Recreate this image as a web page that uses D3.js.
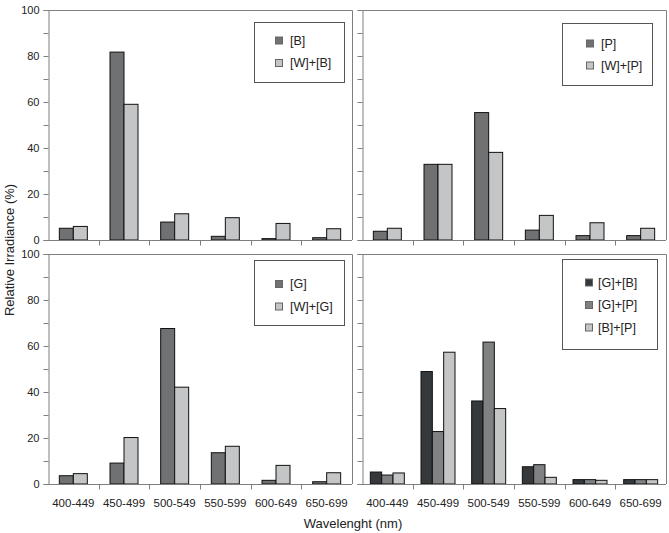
<!DOCTYPE html>
<html>
<head>
<meta charset="utf-8">
<script src="https://cdn.jsdelivr.net/npm/d3@7"></script>
<style>
  body { margin: 0; background: #fff; }
  svg { display: block; font-family: "Liberation Sans", Arial, sans-serif; }
</style>
</head>
<body>
<svg id="chart" width="669" height="533"></svg>
<script>
// wavelength bins
const categories = ['400-449', '450-499', '500-549', '550-599', '600-649', '650-699'];
const yTicks = [0, 20, 40, 60, 80, 100];
const yMinorTicks = [10, 30, 50, 70, 90];

// relative irradiance (%) per bin
const seriesB = [5.1, 81.7, 7.8, 1.6, 0.6, 1];
const seriesWB = [5.9, 59, 11.4, 9.7, 7.2, 4.9];
const seriesP = [3.8, 32.9, 55.4, 4.3, 1.9, 1.9];
const seriesWP = [5.1, 32.9, 38.1, 10.7, 7.5, 5.1];
const seriesG = [3.6, 9.1, 67.6, 13.6, 1.6, 1];
const seriesWG = [4.5, 20.2, 42.1, 16.4, 8.1, 4.9];
const seriesGB = [5.2, 48.9, 36.1, 7.5, 1.9, 1.9];
const seriesGP = [3.9, 22.8, 61.7, 8.4, 1.9, 1.9];
const seriesBP = [4.8, 57.3, 32.8, 2.9, 1.6, 1.9];

const cDark = '#707173', cLight = '#c4c5c7', cBlack = '#35393b', cMid = '#808182';
const axisColor = '#7f7f7f';

const panels = [
  { x0: 48, x1: 352, y0: 10, y1: 240, yLabels: true, xLabels: false, groupW: 28,
    series: [{ name: '[B]', values: seriesB, color: cDark }, { name: '[W]+[B]', values: seriesWB, color: cLight }],
    legend: { x: 254, y: 22, w: 90, h: 60, first: 18.5, step: 22.5, sw: 21, tx: 36 } },
  { x0: 362, x1: 666, y0: 10, y1: 240, yLabels: false, xLabels: false, groupW: 28,
    series: [{ name: '[P]', values: seriesP, color: cDark }, { name: '[W]+[P]', values: seriesWP, color: cLight }],
    legend: { x: 562, y: 23, w: 90, h: 62, first: 20.5, step: 22, sw: 24, tx: 39 } },
  { x0: 48, x1: 352, y0: 254, y1: 484, yLabels: true, xLabels: true, groupW: 28,
    series: [{ name: '[G]', values: seriesG, color: cDark }, { name: '[W]+[G]', values: seriesWG, color: cLight }],
    legend: { x: 254, y: 260, w: 90, h: 65, first: 24, step: 22.5, sw: 21, tx: 36 } },
  { x0: 362, x1: 666, y0: 254, y1: 484, yLabels: false, xLabels: true, groupW: 34,
    series: [{ name: '[G]+[B]', values: seriesGB, color: cBlack }, { name: '[G]+[P]', values: seriesGP, color: cMid },
             { name: '[B]+[P]', values: seriesBP, color: cLight }],
    legend: { x: 562, y: 259, w: 95, h: 90, first: 23.5, step: 22.5, sw: 23, tx: 36 } }
];

const svg = d3.select('#chart');

panels.forEach(p => {
  const g = svg.append('g');
  const x = d3.scaleBand().domain(categories).range([p.x0, p.x1]).padding(0);
  const y = d3.scaleLinear().domain([0, 100]).range([p.y1, p.y0]);
  const keys = p.series.map(s => s.name);
  const n = keys.length;
  const step = p.groupW / n;
  const outer = (x.bandwidth() / step - n) / 2;
  const xs = d3.scaleBand().domain(keys).range([0, x.bandwidth()]).paddingInner(0).paddingOuter(outer);

  // frame (top + right)
  g.append('path')
    .attr('d', `M${p.x0},${p.y0 + 0.5}H${p.x1 + 0.5}V${p.y1}`)
    .attr('fill', 'none').attr('stroke', axisColor).attr('stroke-width', 1);

  // y axis
  const yAxis = d3.axisLeft(y).tickValues(yTicks).tickSize(5).tickPadding(4)
    .tickFormat(p.yLabels ? d3.format('d') : '');
  const ya = g.append('g').attr('transform', `translate(${p.x0 + 0.5},0)`).call(yAxis);
  ya.select('.domain').attr('stroke', axisColor);
  ya.selectAll('.tick line').attr('stroke', axisColor);
  ya.selectAll('.tick text').attr('fill', '#222').style('font-size', '11px');
  const ym = d3.axisLeft(y).tickValues(yMinorTicks).tickSize(5).tickFormat('');
  const yma = g.append('g').attr('transform', `translate(${p.x0 + 0.5},0)`).call(ym);
  yma.select('.domain').remove();
  yma.selectAll('.tick line').attr('stroke', axisColor);

  // bars
  p.series.forEach(s => {
    g.append('g').selectAll('rect')
      .data(s.values)
      .join('rect')
      .attr('x', (d, i) => x(categories[i]) + xs(s.name))
      .attr('y', d => y(d))
      .attr('width', xs.bandwidth())
      .attr('height', d => y(0) - y(d))
      .attr('fill', s.color)
      .attr('stroke', '#111')
      .attr('stroke-width', 1);
  });

  // x axis: ticks at band boundaries
  const xa = g.append('g').attr('transform', `translate(0,${p.y1 + 0.5})`);
  xa.append('line').attr('x1', p.x0).attr('x2', p.x1).attr('stroke', axisColor);
  xa.selectAll('line.tk')
    .data(categories.slice(1))
    .join('line')
    .attr('class', 'tk')
    .attr('x1', d => Math.round(x(d)) + 0.5).attr('x2', d => Math.round(x(d)) + 0.5)
    .attr('y1', 0).attr('y2', 5)
    .attr('stroke', axisColor);
  if (p.xLabels) {
    xa.selectAll('text')
      .data(categories)
      .join('text')
      .attr('x', d => x(d) + x.bandwidth() / 2)
      .attr('y', 22)
      .attr('text-anchor', 'middle')
      .attr('fill', '#222')
      .style('font-size', '11.5px')
      .text(d => d);
  }

  // legend
  const L = p.legend;
  const lg = g.append('g').attr('transform', `translate(${L.x},${L.y})`);
  lg.append('rect').attr('x', 0.5).attr('y', 0.5).attr('width', L.w).attr('height', L.h)
    .attr('fill', '#fff').attr('stroke', '#555');
  p.series.forEach((s, i) => {
    const cy = L.first + i * L.step;
    lg.append('rect').attr('x', L.sw + 0.5).attr('y', cy - 3.5).attr('width', 7).attr('height', 7)
      .attr('fill', s.color).attr('stroke', '#666');
    lg.append('text').attr('x', L.tx).attr('y', cy).attr('dy', '0.35em')
      .attr('fill', '#222').style('font-size', '12.5px').text(s.name);
  });
});

svg.append('text')
  .attr('transform', 'translate(14,250) rotate(-90)')
  .attr('text-anchor', 'middle')
  .attr('fill', '#222')
  .style('font-size', '13px')
  .text('Relative Irradiance (%)');

svg.append('text')
  .attr('x', 353).attr('y', 528)
  .attr('text-anchor', 'middle')
  .attr('fill', '#222')
  .style('font-size', '13px')
  .text('Wavelenght (nm)');
</script>
</body>
</html>
